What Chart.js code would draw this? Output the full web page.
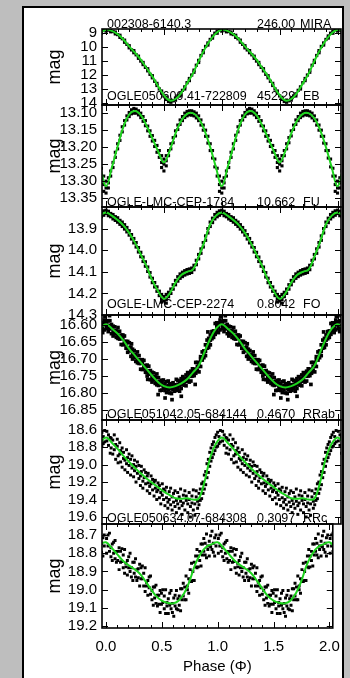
<!DOCTYPE html>
<html>
<head>
<meta charset="utf-8">
<script src="https://cdn.jsdelivr.net/npm/chart.js@4.4.1/dist/chart.umd.min.js"></script>
<style>
html, body { margin: 0; padding: 0; width: 350px; height: 678px; overflow: hidden; background: #bebebe; }
#sheet { position: absolute; left: 22px; top: 6px; width: 322px; height: 690px; background: #fff; border: 2px solid #000; box-sizing: border-box; }
.box { position: absolute; left: 23px; }
</style>
</head>
<body>
<div id="sheet"></div>
<div id="charts"></div>
<script>
// ---- data ----
const phaseTicks = [0, 0.5, 1, 1.5, 2];
const phaseRange = [-0.035, 2.03];

const topName = '002308-6140.3', topPeriod = '246.00', topType = 'MIRA';
const names = ['OGLE050609.41-722809', 'OGLE-LMC-CEP-1784', 'OGLE-LMC-CEP-2274', 'OGLE051042.05-684144', 'OGLE050634.07-684308', ''];
const periods = ['452.29', '10.662', '0.8042', '0.4670', '0.3097', ''];
const types = ['EB', 'FU', 'FO', 'RRab', 'RRc', ''];

const magRanges = [[8.7, 14.15], [13.076, 13.376], [13.80, 14.30], [16.57, 16.88], [18.49, 19.68], [18.64, 19.21]];
const magTicks = [
    [9, 10, 11, 12, 13, 14],
    [13.10, 13.15, 13.20, 13.25, 13.30, 13.35],
    [13.9, 14.0, 14.1, 14.2, 14.3],
    [16.60, 16.65, 16.70, 16.75, 16.80, 16.85],
    [18.6, 18.8, 19.0, 19.2, 19.4, 19.6],
    [18.7, 18.8, 18.9, 19.0, 19.1, 19.2]
];
const tickDecimals = [0, 2, 1, 2, 1, 1];

// fitted curves, one value per phase in fitPhase
const fitPhase = [0, .05, .10, .15, .20, .25, .30, .35, .40, .45, .50, .55, .60, .65, .70, .75, .80, .85, .90, .95, 1.0];
const fit1 = [8.75, 8.83, 9.07, 9.45, 9.95, 10.4, 10.9, 11.5, 12.1, 12.8, 13.45, 13.83, 13.72, 13.28, 12.6, 11.9, 11.0, 10.18, 9.5, 9.0, 8.75];
const fit2 = [13.315, 13.26, 13.198, 13.14, 13.104, 13.094, 13.106, 13.137, 13.174, 13.212, 13.245, 13.21, 13.16, 13.122, 13.102, 13.1, 13.115, 13.15, 13.2, 13.26, 13.315];
const fit3 = [13.826, 13.84, 13.86, 13.885, 13.92, 13.965, 14.02, 14.075, 14.14, 14.19, 14.225, 14.20, 14.15, 14.115, 14.10, 14.09, 14.03, 13.96, 13.88, 13.84, 13.826];
const fit4 = [16.597, 16.61, 16.625, 16.645, 16.67, 16.69, 16.71, 16.73, 16.75, 16.768, 16.78, 16.784, 16.78, 16.772, 16.76, 16.74, 16.72, 16.68, 16.64, 16.61, 16.597];
const fit5 = [18.69, 18.75, 18.82, 18.9, 18.97, 19.04, 19.1, 19.16, 19.21, 19.26, 19.31, 19.35, 19.385, 19.39, 19.385, 19.40, 19.39, 19.2, 18.92, 18.76, 18.69];
const fit6 = [18.74, 18.77, 18.805, 18.84, 18.865, 18.885, 18.91, 18.95, 18.995, 19.035, 19.06, 19.072, 19.075, 19.06, 19.02, 18.95, 18.86, 18.8, 18.765, 18.75, 18.74];

// observations: [phase, mag, mag, ...]
const obs1 = [
    [0.00, 8.72, 8.85], [0.02, 8.78], [0.04, 8.74, 8.9], [0.06, 8.88], [0.08, 8.92, 9.05], [0.10, 9.1],
    [0.12, 9.15, 9.3], [0.14, 9.4], [0.16, 9.5, 9.65], [0.18, 9.8], [0.20, 9.9, 10.05], [0.22, 10.2],
    [0.24, 10.25, 10.4], [0.26, 10.55], [0.28, 10.65, 10.8], [0.30, 11.0], [0.32, 11.1, 11.25], [0.34, 11.45],
    [0.36, 11.55, 11.7], [0.38, 11.95], [0.40, 12.05, 12.2], [0.42, 12.45], [0.44, 12.6, 12.75], [0.46, 13.0],
    [0.48, 13.15, 13.3], [0.50, 13.5], [0.52, 13.6, 13.75], [0.54, 13.9], [0.56, 13.8, 13.95], [0.58, 13.85],
    [0.60, 13.65, 13.8], [0.62, 13.5], [0.64, 13.35, 13.5], [0.66, 13.1], [0.68, 12.85, 13.0], [0.70, 12.55],
    [0.72, 12.25, 12.4], [0.74, 12.0], [0.76, 11.65, 11.8], [0.78, 11.3], [0.80, 10.95, 11.1], [0.82, 10.6],
    [0.84, 10.25, 10.4], [0.86, 9.95], [0.88, 9.7, 9.85], [0.90, 9.45], [0.92, 9.2, 9.35], [0.94, 9.0],
    [0.96, 8.85, 9.0], [0.98, 8.75]
];
const obs2 = [
    [0.00, 13.30, 13.32, 13.335], [0.02, 13.29, 13.305, 13.32], [0.04, 13.27, 13.285], [0.06, 13.245, 13.26],
    [0.08, 13.215, 13.23], [0.10, 13.19, 13.205], [0.12, 13.165, 13.18], [0.14, 13.14, 13.155],
    [0.16, 13.122, 13.135], [0.18, 13.108, 13.12], [0.20, 13.098, 13.11], [0.22, 13.09, 13.102],
    [0.24, 13.086, 13.10], [0.26, 13.088, 13.10], [0.28, 13.093, 13.105], [0.30, 13.10, 13.113],
    [0.32, 13.11, 13.124], [0.34, 13.122, 13.137], [0.36, 13.138, 13.152], [0.38, 13.152, 13.168],
    [0.40, 13.166, 13.182], [0.42, 13.18, 13.198], [0.44, 13.195, 13.215], [0.46, 13.21, 13.23],
    [0.48, 13.225, 13.245, 13.26], [0.50, 13.235, 13.25, 13.27], [0.52, 13.225, 13.24, 13.255], [0.54, 13.21, 13.225],
    [0.56, 13.19, 13.205], [0.58, 13.172, 13.187], [0.60, 13.152, 13.167], [0.62, 13.135, 13.148],
    [0.64, 13.12, 13.133], [0.66, 13.11, 13.122], [0.68, 13.10, 13.113], [0.70, 13.095, 13.108],
    [0.72, 13.093, 13.105], [0.74, 13.093, 13.106], [0.76, 13.096, 13.108], [0.78, 13.10, 13.114],
    [0.80, 13.108, 13.122], [0.82, 13.12, 13.135], [0.84, 13.135, 13.15], [0.86, 13.15, 13.168],
    [0.88, 13.168, 13.188], [0.90, 13.19, 13.21], [0.92, 13.21, 13.232], [0.94, 13.235, 13.258],
    [0.96, 13.262, 13.285], [0.98, 13.285, 13.31, 13.33]
];
const obs3 = [
    [0.00, 13.815, 13.83], [0.02, 13.82, 13.84], [0.04, 13.83, 13.845], [0.06, 13.835, 13.855], [0.08, 13.845, 13.862],
    [0.10, 13.85, 13.87], [0.12, 13.862, 13.88], [0.14, 13.87, 13.89], [0.16, 13.882, 13.902], [0.18, 13.895, 13.915],
    [0.20, 13.91, 13.93], [0.22, 13.928, 13.948], [0.24, 13.946, 13.966], [0.26, 13.965, 13.985], [0.28, 13.988, 14.008],
    [0.30, 14.01, 14.03], [0.32, 14.032, 14.052], [0.34, 14.054, 14.074], [0.36, 14.078, 14.098], [0.38, 14.104, 14.124],
    [0.40, 14.13, 14.15], [0.42, 14.15, 14.17], [0.44, 14.17, 14.19], [0.46, 14.19, 14.21], [0.48, 14.205, 14.225, 14.24],
    [0.50, 14.215, 14.235], [0.52, 14.205, 14.228, 14.245], [0.54, 14.195, 14.215], [0.56, 14.18, 14.2], [0.58, 14.16, 14.18],
    [0.60, 14.14, 14.16], [0.62, 14.123, 14.143], [0.64, 14.11, 14.13], [0.66, 14.102, 14.122], [0.68, 14.095, 14.115],
    [0.70, 14.09, 14.11], [0.72, 14.087, 14.107], [0.74, 14.083, 14.103], [0.76, 14.07, 14.09], [0.78, 14.047, 14.067],
    [0.80, 14.02, 14.04], [0.82, 13.994, 14.014], [0.84, 13.965, 13.985], [0.86, 13.934, 13.954], [0.88, 13.9, 13.92],
    [0.90, 13.87, 13.89], [0.92, 13.852, 13.872], [0.94, 13.835, 13.855], [0.96, 13.825, 13.845], [0.98, 13.818, 13.838]
];
const obs4 = [
    [0.005, 16.61, 16.59, 16.6], [0.019, 16.587, 16.606, 16.619], [0.033, 16.611, 16.587, 16.601], [0.047, 16.606, 16.625, 16.598],
    [0.061, 16.632, 16.603, 16.618], [0.075, 16.605, 16.626, 16.616], [0.089, 16.624, 16.617, 16.636], [0.103, 16.607, 16.639, 16.632],
    [0.117, 16.641, 16.63, 16.618], [0.131, 16.63, 16.657, 16.64], [0.145, 16.658, 16.629, 16.637], [0.159, 16.648, 16.656, 16.632],
    [0.173, 16.668, 16.648, 16.658], [0.187, 16.648, 16.667, 16.68], [0.201, 16.676, 16.652, 16.666], [0.215, 16.673, 16.692, 16.665],
    [0.229, 16.7, 16.671, 16.686], [0.243, 16.675, 16.696, 16.686], [0.257, 16.695, 16.688, 16.707], [0.271, 16.679, 16.711, 16.704],
    [0.285, 16.713, 16.702, 16.69], [0.299, 16.703, 16.73, 16.713], [0.313, 16.731, 16.702, 16.71], [0.327, 16.72, 16.728, 16.704],
    [0.341, 16.739, 16.719, 16.729], [0.355, 16.718, 16.737, 16.75], [0.369, 16.745, 16.721, 16.735], [0.383, 16.742, 16.761, 16.734],
    [0.397, 16.768, 16.739, 16.754], [0.411, 16.741, 16.762, 16.752], [0.425, 16.76, 16.753, 16.772], [0.439, 16.744, 16.776, 16.769],
    [0.453, 16.778, 16.767, 16.755], [0.467, 16.766, 16.793, 16.776], [0.481, 16.792, 16.763, 16.771], [0.495, 16.778, 16.786, 16.762],
    [0.509, 16.793, 16.773, 16.783], [0.523, 16.767, 16.786, 16.799], [0.537, 16.789, 16.765, 16.779], [0.551, 16.781, 16.8, 16.773],
    [0.565, 16.802, 16.773, 16.788], [0.579, 16.77, 16.791, 16.781], [0.593, 16.783, 16.776, 16.795], [0.607, 16.76, 16.792, 16.785],
    [0.621, 16.786, 16.775, 16.763], [0.635, 16.768, 16.795, 16.778], [0.649, 16.787, 16.758, 16.766], [0.663, 16.768, 16.776, 16.752],
    [0.677, 16.777, 16.757, 16.767], [0.691, 16.747, 16.766, 16.779], [0.705, 16.764, 16.74, 16.754], [0.719, 16.749, 16.768, 16.741],
    [0.733, 16.765, 16.736, 16.751], [0.747, 16.729, 16.75, 16.74], [0.761, 16.737, 16.73, 16.749], [0.775, 16.71, 16.742, 16.735],
    [0.789, 16.733, 16.722, 16.71], [0.803, 16.711, 16.738, 16.721], [0.817, 16.722, 16.693, 16.701], [0.831, 16.695, 16.703, 16.679],
    [0.845, 16.696, 16.676, 16.686], [0.859, 16.658, 16.677, 16.69], [0.873, 16.668, 16.644, 16.658], [0.887, 16.647, 16.666, 16.639],
    [0.901, 16.658, 16.629, 16.644], [0.915, 16.619, 16.64, 16.63], [0.929, 16.624, 16.617, 16.636], [0.943, 16.595, 16.627, 16.62],
    [0.957, 16.616, 16.605, 16.593], [0.971, 16.595, 16.622, 16.605], [0.985, 16.614, 16.585, 16.593],
    [0.03, 16.572], [0.22, 16.655], [0.36, 16.76], [0.45, 16.805], [0.51, 16.815], [0.57, 16.82], [0.65, 16.81],
    [0.77, 16.775], [0.88, 16.62], [0.99, 16.575]
];
const obs5 = [
    [0.007, 18.73, 18.62], [0.021, 18.78, 18.66], [0.036, 18.87, 18.69], [0.044, 18.70, 18.81], [0.058, 18.88, 18.72],
    [0.071, 18.66, 18.83], [0.083, 18.94, 18.77], [0.097, 18.79, 18.71], [0.104, 18.9, 18.98], [0.118, 18.75, 18.88],
    [0.126, 18.97, 18.84], [0.139, 18.81, 19.03], [0.151, 18.93, 18.86], [0.163, 19.06, 18.95], [0.177, 18.83, 18.99],
    [0.186, 19.09, 18.92], [0.199, 19.01, 18.88], [0.212, 18.94, 19.12], [0.224, 19.04, 18.9], [0.238, 19.14, 19.0],
    [0.246, 18.95, 19.07], [0.259, 19.2, 19.02], [0.271, 19.1, 18.97], [0.284, 19.01, 19.16], [0.297, 19.13, 19.24],
    [0.305, 19.02, 19.08], [0.318, 19.19, 19.27], [0.329, 19.06, 19.15], [0.342, 19.22, 19.09], [0.356, 19.3, 19.13],
    [0.364, 19.1, 19.21], [0.377, 19.25, 19.33], [0.389, 19.13, 19.22], [0.402, 19.29, 19.17], [0.415, 19.36, 19.2],
    [0.426, 19.18, 19.27], [0.438, 19.31, 19.4], [0.449, 19.21, 19.29], [0.461, 19.38, 19.24], [0.473, 19.32, 19.45],
    [0.486, 19.22, 19.35], [0.497, 19.4, 19.28], [0.509, 19.47, 19.3], [0.522, 19.26, 19.38], [0.534, 19.43, 19.5],
    [0.546, 19.31, 19.4], [0.558, 19.27, 19.46], [0.571, 19.52, 19.37], [0.583, 19.33, 19.43], [0.596, 19.48, 19.3],
    [0.608, 19.41, 19.55], [0.619, 19.32, 19.45], [0.632, 19.5, 19.37], [0.644, 19.28, 19.42], [0.657, 19.47, 19.57],
    [0.668, 19.35, 19.44], [0.681, 19.3, 19.52], [0.693, 19.41, 19.36], [0.706, 19.55, 19.45], [0.718, 19.32, 19.4],
    [0.729, 19.48, 19.6], [0.742, 19.36, 19.44], [0.754, 19.29, 19.52], [0.767, 19.45, 19.58], [0.779, 19.37, 19.3],
    [0.791, 19.5, 19.42], [0.803, 19.33, 19.46], [0.814, 19.28, 19.41], [0.826, 19.39, 19.22], [0.838, 19.2, 19.33],
    [0.849, 19.28, 19.12], [0.861, 19.08, 19.23], [0.872, 19.15, 18.99], [0.884, 18.94, 19.09], [0.896, 19.02, 18.86],
    [0.907, 18.81, 18.96], [0.918, 18.92, 18.77], [0.929, 18.74, 18.88], [0.941, 18.84, 18.69], [0.952, 18.66, 18.8],
    [0.964, 18.79, 18.63], [0.976, 18.68, 18.76], [0.988, 18.61, 18.74]
];
const obs6 = [
    [0.006, 18.80, 18.72], [0.019, 18.70, 18.76], [0.032, 18.79, 18.69], [0.045, 18.77, 18.82], [0.057, 18.75, 18.84],
    [0.069, 18.80, 18.74], [0.082, 18.73, 18.83], [0.094, 18.85, 18.79], [0.106, 18.79, 18.84], [0.118, 18.89, 18.77],
    [0.131, 18.79, 18.85], [0.143, 18.845, 18.775], [0.155, 18.88, 18.81], [0.167, 18.78, 18.91], [0.179, 18.875, 18.855],
    [0.192, 18.92, 18.84], [0.204, 18.82, 18.88], [0.216, 18.90, 18.80], [0.228, 18.88, 18.93], [0.241, 18.85, 18.95],
    [0.253, 18.91, 18.85], [0.265, 18.83, 18.93], [0.277, 18.95, 18.89], [0.289, 18.885, 18.935], [0.302, 18.98, 18.86],
    [0.314, 18.88, 18.94], [0.326, 18.94, 18.87], [0.338, 18.98, 18.91], [0.351, 18.88, 19.01], [0.363, 18.98, 18.96],
    [0.375, 19.03, 18.95], [0.387, 18.93, 18.99], [0.399, 19.025, 18.925], [0.412, 19.005, 19.055], [0.424, 18.985, 19.085],
    [0.436, 19.045, 18.985], [0.448, 18.975, 19.075], [0.461, 19.09, 19.03], [0.473, 19.03, 19.08], [0.485, 19.125, 19.005],
    [0.497, 19.02, 19.08], [0.509, 19.07, 19.0], [0.522, 19.105, 19.035], [0.534, 19.0, 19.13], [0.546, 19.09, 19.07],
    [0.558, 19.13, 19.05], [0.571, 19.02, 19.085], [0.583, 19.105, 19.005], [0.595, 19.075, 19.125], [0.607, 19.045, 19.145],
    [0.619, 19.09, 19.03], [0.631, 19.005, 19.105], [0.644, 19.11, 19.05], [0.656, 19.035, 19.085], [0.668, 19.115, 18.995],
    [0.680, 18.995, 19.055], [0.692, 19.035, 18.965], [0.705, 19.055, 18.985], [0.717, 18.925, 19.055], [0.729, 19.0, 18.98],
    [0.741, 19.02, 18.94], [0.754, 18.89, 18.955], [0.766, 18.955, 18.855], [0.778, 18.90, 18.95], [0.790, 18.85, 18.95],
    [0.803, 18.875, 18.815], [0.815, 18.78, 18.88], [0.827, 18.875, 18.815], [0.839, 18.79, 18.84], [0.851, 18.87, 18.75],
    [0.864, 18.75, 18.81], [0.876, 18.79, 18.72], [0.888, 18.81, 18.745], [0.900, 18.695, 18.825], [0.912, 18.78, 18.76],
    [0.925, 18.815, 18.735], [0.937, 18.705, 18.765], [0.949, 18.78, 18.68], [0.961, 18.745, 18.795], [0.973, 18.715, 18.815],
    [0.985, 18.76, 18.70]
];

const fits = [fit1, fit2, fit3, fit4, fit5, fit6];
const observations = [obs1, obs2, obs3, obs4, obs5, obs6];

// ---- layout ----
const FONT = '"Liberation Sans", Arial, sans-serif';
const panelTop = [29, 105, 207, 315, 420, 524];
const panelBottom = [105, 207, 315, 420, 524, 628];
const textBase = [100, 206, 308, 418, 522];
const dotSize = [2.3, 2.2, 2.3, 2.6, 2.1, 2.1];
const LEFT = 23, AXIS_W = 79, CANVAS_W = 327, PAD_R = 9;

// repeat the phased light curve over the plotted phase range
function fold(rows) {
    const pts = [];
    rows.forEach(r => {
        for (let k = 1; k < r.length; k++)
            for (let c = -1; c <= 2; c++) pts.push({ x: r[0] + c, y: r[k] });
    });
    return pts;
}
function foldFit(mags) {
    const pts = [];
    for (let c = -1; c <= 2; c++)
        fitPhase.forEach((p, i) => { if (i < fitPhase.length - 1) pts.push({ x: p + c, y: mags[i] }); });
    return pts;
}

const framePlugin = {
    id: 'frame',
    beforeDatasetsDraw(chart, args, opts) {
        const ctx = chart.ctx;
        ctx.save();
        ctx.fillStyle = '#000';
        ctx.font = '12.5px ' + FONT;
        ctx.textBaseline = 'alphabetic';
        (opts.texts || []).forEach(t => ctx.fillText(t.text, t.x - LEFT, t.y - opts.top));
        ctx.restore();
    },
    afterDatasetsDraw(chart, args, opts) {
        const { ctx, chartArea: a, scales: { x, y } } = chart;
        ctx.save();
        ctx.strokeStyle = '#000';
        ctx.lineWidth = 1;
        ctx.beginPath();
        for (let k = 0; k <= 20; k++) {
            const px = Math.round(x.getPixelForValue(k / 10)) + 0.5;
            const len = k % 5 ? 3 : 6;
            ctx.moveTo(px, a.bottom); ctx.lineTo(px, a.bottom - len);
            ctx.moveTo(px, a.top); ctx.lineTo(px, a.top + len);
        }
        y.ticks.forEach(t => {
            const py = Math.round(y.getPixelForValue(t.value)) + 0.5;
            ctx.moveTo(a.left, py); ctx.lineTo(a.left + 6, py);
            ctx.moveTo(a.right, py); ctx.lineTo(a.right - 6, py);
        });
        ctx.stroke();
        ctx.lineWidth = 1.6;
        ctx.strokeRect(a.left, a.top, a.right - a.left, a.bottom - a.top);
        ctx.restore();
    }
};

const holder = document.getElementById('charts');
for (let i = 0; i < 6; i++) {
    const last = i === 5;
    const cTop = i === 0 ? 4 : panelTop[i] - 14;
    const cBot = last ? 678 : panelBottom[i] + 14;
    const box = document.createElement('div');
    box.className = 'box';
    box.style.top = cTop + 'px';
    const canvas = document.createElement('canvas');
    canvas.width = CANVAS_W;
    canvas.height = cBot - cTop;
    box.appendChild(canvas);
    holder.appendChild(box);

    const texts = [];
    if (i === 0) {
        texts.push({ text: topName, x: 107, y: 28 }, { text: topPeriod, x: 257, y: 28 }, { text: topType, x: 300, y: 28 });
    }
    if (names[i]) {
        texts.push({ text: names[i], x: 107, y: textBase[i] }, { text: periods[i], x: 257, y: textBase[i] }, { text: types[i], x: 303, y: textBase[i] });
    }

    new Chart(canvas, {
        type: 'scatter',
        data: {
            datasets: [{
                data: foldFit(fits[i]),
                showLine: true,
                borderColor: '#1ed41e',
                borderWidth: 2,
                pointRadius: 0,
                tension: 0.4,
                clip: 0
            }, {
                data: fold(observations[i]),
                pointStyle: 'rect',
                pointRadius: dotSize[i],
                backgroundColor: '#000',
                borderWidth: 0,
                clip: 0
            }]
        },
        options: {
            responsive: false,
            animation: false,
            events: [],
            layout: { padding: { left: 0, right: PAD_R, top: panelTop[i] - cTop, bottom: last ? 0 : cBot - panelBottom[i] } },
            plugins: {
                legend: { display: false },
                tooltip: { enabled: false },
                frame: { texts: texts, top: cTop }
            },
            scales: {
                x: {
                    type: 'linear',
                    display: last,
                    min: phaseRange[0],
                    max: phaseRange[1],
                    grid: { display: false, drawTicks: false },
                    border: { display: false },
                    afterBuildTicks: s => { s.ticks = phaseTicks.map(v => ({ value: v })); },
                    afterFit: s => { if (last) s.height = 678 - 628; },
                    ticks: {
                        color: '#000',
                        padding: 10,
                        maxRotation: 0,
                        font: { family: FONT, size: 15 },
                        callback: v => Number(v).toFixed(1)
                    },
                    title: {
                        display: true,
                        text: 'Phase (\u03A6)',
                        color: '#000',
                        font: { family: FONT, size: 15 },
                        padding: { top: 0, bottom: 2 }
                    }
                },
                y: {
                    type: 'linear',
                    reverse: true,
                    min: magRanges[i][0],
                    max: magRanges[i][1],
                    grid: { display: false, drawTicks: false },
                    border: { display: false },
                    afterBuildTicks: s => { s.ticks = magTicks[i].map(v => ({ value: v })); },
                    afterFit: s => { s.width = AXIS_W; },
                    ticks: {
                        color: '#000',
                        padding: 5,
                        autoSkip: false,
                        font: { family: FONT, size: 15 },
                        callback: v => Number(v).toFixed(tickDecimals[i])
                    },
                    title: {
                        display: true,
                        text: 'mag',
                        color: '#000',
                        font: { family: FONT, size: 18 },
                        padding: { top: 21, bottom: 0 }
                    }
                }
            }
        },
        plugins: [framePlugin]
    });
}
</script>
</body>
</html>
